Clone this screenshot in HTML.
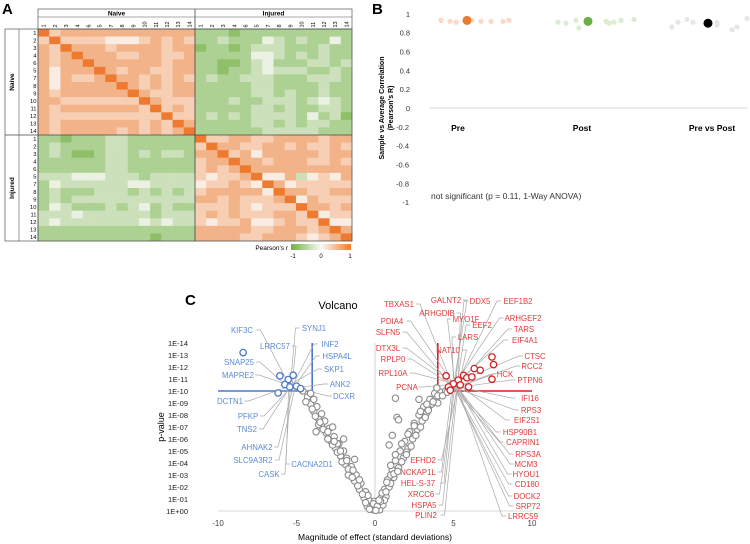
<!DOCTYPE html>
<html><head><meta charset="utf-8"><style>
body{margin:0;background:#fff;}
svg{display:block;font-family:"Liberation Sans",Arial,sans-serif;}
</style></head><body>
<svg id="fig" width="750" height="544" viewBox="0 0 750 544" xmlns="http://www.w3.org/2000/svg">
<g id="A"></g>
<g id="B"></g>
<g id="C"></g>
</svg>
<script>
// ---------- Panel A data ----------
const rowLabels=["1","2","3","4","6","5","7","8","9","10","11","12","13","14"];
const heatRows=[
"9677777777777722212222222222","6966665556767622322243232242","7697776777767712212333222322",
"7679777667766722222443232322","7677977777767722112342223323","7577797677667722122343332232",
"7576679776767623223332223332","7577777976767722222332222322","7677777797667722222332322322",
"7766666669766622232233323432","7677777776967622222332322332","7666666666696623232333324231",
"7677777776769722222332323322","7677777676767922222233333222",
"2212223322222296677667777677","2322223322222269776677676676","2321123323233277967577777677",
"2222223322222267797767776676","2222223322222267679777777777","3334443332333365667955735657",
"2433333344333356676597566666","2322233323232367777759776677","2323333333333377676667957666",
"2432223234232266676566697767","3334333333233367676667769566","3433333334343365667556766955",
"2222222222222277777667776797","2222222222122277776677765679"];
// ---------- Panel B data ----------
const bCats=["Pre","Post","Pre vs Post"];
const bMeans=[0.93,0.92,0.90];
const preVals=[0.93,0.92,0.91,0.93,0.92,0.92,0.92,0.93];
const postVals=[0.91,0.90,0.93,0.85,0.92,0.90,0.91,0.93,0.94];
const pvpVals=[0.86,0.91,0.94,0.91,0.88,0.91,0.83,0.86,0.95];
const bTicks=[1,0.8,0.6,0.4,0.2,0,-0.2,-0.4,-0.6,-0.8,-1];
// ---------- Panel C data ----------
const grayX=[-0.1,-0.3,-0.2,-0.5,-0.4,-0.7,-0.6,-1.0,-0.9,-1.3,-1.2,-1.6,-1.5,-1.9,-1.8,-2.2,-2.0,-2.5,-2.3,-2.8,-2.6,-3.1,-2.9,-3.4,-3.2,-3.6,-3.4,-3.9,-3.7,-4.1,-3.9,-4.3,-4.1,-4.6,-3.75,-3.6,-2.0,-1.3,-2.7,
0.1,0.3,0.2,0.5,0.4,0.7,0.6,0.9,0.8,1.2,1.1,1.5,1.3,1.8,1.6,2.1,1.9,2.4,2.2,2.7,2.5,3.0,2.8,3.3,3.1,3.6,3.5,3.9,3.8,4.2,4.5,4.8,1.3,1.4,1.5,1.1,0.9,2.8,0.0,-0.05,3.94,-1.7,-2.4,-3.0,0.6,1.0,2.0,3.4,4.0,
-0.2,-0.1,0.15,0.35,-0.45,-0.8,-1.1,-1.45,-1.7,-2.1,-2.4,-2.7,-3.0,-3.3,-3.5,-3.8,-4.0,-4.4,-1.0,-1.4,-1.8,-2.2,-2.6,-3.0,
0.25,0.45,0.7,1.0,1.2,1.45,1.7,2.0,2.3,2.6,2.9,3.2,3.4,3.7,4.0,4.3,4.6,0.75,1.0,1.3,1.7,2.1,2.5,2.9,3.3,-0.6,0.05,-0.35];
const grayY=[0.1,0.2,0.5,0.4,0.9,1.1,1.6,1.8,2.3,2.5,3.0,3.2,3.7,3.9,4.4,4.6,5.0,5.2,5.6,5.8,6.2,6.5,6.9,7.1,7.5,7.7,8.1,8.3,8.7,8.9,9.3,9.5,9.8,10.0,6.6,7.2,6.0,4.3,7.0,
0.2,0.1,0.6,0.5,1.1,1.2,1.8,2.0,2.6,2.8,3.4,3.6,4.2,4.4,5.0,5.2,5.8,6.0,6.6,6.8,7.3,7.5,8.0,8.2,8.7,8.9,9.3,9.4,9.8,9.9,10.0,10.2,9.4,7.8,7.6,6.3,5.5,9.3,0.3,0.8,10.26,3.0,5.6,6.0,0.9,3.0,4.9,8.5,9.0,
0.3,0.6,0.4,0.8,1.3,1.4,2.1,2.8,3.5,4.1,4.9,5.5,6.0,6.8,7.4,7.9,8.5,9.1,2.6,3.4,4.2,5.0,5.8,6.6,
0.9,1.5,1.6,2.3,3.1,3.3,4.1,4.7,5.4,6.3,7.0,7.8,8.4,9.1,9.6,9.6,9.9,2.4,3.8,4.7,5.6,6.4,7.1,8.3,8.9,0.7,0.05,0.15];
const blueX=[-8.4,-6.06,-5.53,-5.21,-5.74,-5.43,-5.0,-4.74,-6.17];
const blueY=[13.2,11.26,10.95,11.31,10.54,10.34,10.4,10.2,9.84];
const redX=[7.45,7.55,7.45,6.7,6.32,4.53,5.64,5.85,6.17,5.3,4.99,5.43,4.68,4.79,5.96];
const redY=[12.84,12.2,10.98,11.73,11.87,11.26,11.3,11.1,11.17,10.9,10.6,10.5,10.34,10.06,10.34];
const xTicks=[-10,-5,0,5,10];
const yTickVals=[0,1,2,3,4,5,6,7,8,9,10,11,12,13,14];
const blueLabels=[["KIF3C",242,333],["SYNJ1",314,331],["LRRC57",275,349],["INF2",330,347],["HSPA4L",337,359],["SNAP25",239,365],["SKP1",334,372],["MAPRE2",238,378],["ANK2",340,387],["DCTN1",230,404],["DCXR",344,399],["PFKP",248,419],["TNS2",247,432],["AHNAK2",257,450],["SLC9A3R2",253,463],["CACNA2D1",312,467],["CASK",269,477]];
const redLabels=[["TBXAS1",399,307],["GALNT2",446,303],["DDX5",480,304],["EEF1B2",518,304],["ARHGDIB",437,316],["ARHGEF2",523,321],["PDIA4",392,324],["MYO1F",466,322],["EEF2",482,328],["TARS",524,332],["SLFN5",388,335],["LARS",468,340],["EIF4A1",525,343],["DTX3L",388,351],["NAT10",448,353],["CTSC",535,359],["RPLP0",393,362],["RCC2",532,369],["RPL10A",393,376],["HCK",505,377],["PTPN6",530,383],["PCNA",407,390],["IFI16",530,401],["RPS3",531,413],["EIF2S1",527,423],["HSP90B1",520,435],["CAPRIN1",523,445],["RPS3A",528,457],["MCM3",526,467],["HYOU1",526,477],["CD180",527,487],["DOCK2",527,499],["SRP72",528,509],["LRRC59",523,519],["EFHD2",423,463],["NCKAP1L",418,475],["HEL-S-37",418,486],["XRCC6",421,497],["HSPA5",424,508],["PLIN2",426,518]];

const NS="http://www.w3.org/2000/svg";
function mk(tag,attrs,parent,txt){const e=document.createElementNS(NS,tag);for(const k in attrs)e.setAttribute(k,attrs[k]);if(txt!==undefined)e.textContent=txt;parent.appendChild(e);return e;}
function lerp(a,b,t){return Math.round(a+(b-a)*t);}
function heatColor(r){const g=[112,176,64],w=[250,250,248],o=[238,122,48];
 if(r<0){const t=-r;return `rgb(${lerp(w[0],g[0],t)},${lerp(w[1],g[1],t)},${lerp(w[2],g[2],t)})`;}
 return `rgb(${lerp(w[0],o[0],r)},${lerp(w[1],o[1],r)},${lerp(w[2],o[2],r)})`;}

// ---------- Panel A ----------
const A=document.getElementById('A');
let t=mk('text',{x:2,y:14,'font-size':15,'font-weight':'bold'},A,'A');

const x0=38,y0=29,cw=(352-38)/28,ch=(241-29)/28;
const cells=mk('g',{},A);
heatRows.forEach((row,i)=>{for(let j=0;j<28;j++){const v=(parseInt(row[j])-4.5)/4.5;
 const r=mk('rect',{x:x0+j*cw,y:y0+i*ch,width:cw+0.3,height:ch+0.3,fill:heatColor(v)},cells);
 }});
mk('rect',{x:x0,y:y0,width:28*cw,height:28*ch,fill:'none',stroke:'#555','stroke-width':0.8},A);
mk('line',{x1:x0+14*cw,y1:9,x2:x0+14*cw,y2:241,stroke:'#444','stroke-width':0.8},A);
mk('line',{x1:5,y1:y0+14*ch,x2:352,y2:y0+14*ch,stroke:'#444','stroke-width':0.8},A);
mk('rect',{x:x0,y:9,width:28*cw,height:20,fill:'none',stroke:'#555','stroke-width':0.7},A);
mk('line',{x1:x0,y1:17,x2:352,y2:17,stroke:'#555','stroke-width':0.6},A);
mk('rect',{x:5,y:y0,width:33,height:28*ch,fill:'none',stroke:'#555','stroke-width':0.7},A);
mk('line',{x1:19,y1:y0,x2:19,y2:241,stroke:'#555','stroke-width':0.6},A);
["Naive","Injured"].forEach((g,k)=>{
 let e=mk('text',{x:x0+(7+14*k)*cw,y:15.5,'font-size':6.5,'font-weight':'bold','text-anchor':'middle'},A,g);
 
 const cy=y0+(7+14*k)*ch;
 e=mk('text',{x:14,y:cy,'font-size':6.5,'font-weight':'bold','text-anchor':'middle',transform:`rotate(-90 14 ${cy})`},A,g);
 
 rowLabels.forEach((l,i)=>{const idx=k*14+i;
  const cx=x0+(idx+0.5)*cw+2;
  e=mk('text',{x:cx,y:27.5,'font-size':5.5,transform:`rotate(-90 ${cx} 27.5)`},A,l);
  
  e=mk('text',{x:36.5,y:y0+(idx+0.5)*ch+2,'font-size':5.8,'text-anchor':'end'},A,l);
  });
});
const defs=mk('defs',{},A);const lg=mk('linearGradient',{id:'pg',x1:0,x2:1,y1:0,y2:0},defs);
mk('stop',{offset:'0','stop-color':heatColor(-1)},lg);mk('stop',{offset:'0.5','stop-color':heatColor(0)},lg);mk('stop',{offset:'1','stop-color':heatColor(1)},lg);
let lgR=mk('rect',{x:291,y:244,width:60,height:6,fill:'url(#pg)'},A);

t=mk('text',{x:288,y:250,'font-size':6.5,'text-anchor':'end'},A,"Pearson's r");
[["-1",293],["0",321],["1",350]].forEach(([s,x])=>{const e=mk('text',{x:x,y:258,'font-size':6,'text-anchor':'middle'},A,s);});

// ---------- Panel B ----------
const B=document.getElementById('B');
t=mk('text',{x:372,y:14,'font-size':15,'font-weight':'bold'},B,'B');
const by=v=>108-v*94.2;
const bx=[458,582,712];
bTicks.forEach(v=>{const e=mk('text',{x:(v<0?409:410),y:by(v)+3,'font-size':7.5,'text-anchor':'end',fill:'#333'},B,String(v));});
let ax=mk('line',{x1:429,y1:by(0),x2:748,y2:by(0),stroke:'#ccc','stroke-width':0.8},B);
t=mk('text',{x:384,y:108,'font-size':7,'font-weight':'bold','text-anchor':'middle',transform:'rotate(-90 384 108)'},B,'Sample vs Average Correlation');
t=mk('text',{x:393,y:108,'font-size':7,'font-weight':'bold','text-anchor':'middle',transform:'rotate(-90 393 108)'},B,"(Pearson's R)");
bCats.forEach((c,i)=>{const e=mk('text',{x:bx[i],y:131,'font-size':8.5,'font-weight':'bold','text-anchor':'middle'},B,c);});
const jit=[[-26,-17,-11,5,14,24,36,42],[-30,-22,-12,-9,18,21,26,33,46],[-36,-30,-21,-15,9,9,24,29,39]];
const sets=[preVals,postVals,pvpVals],lightCols=['#fbd9c4','#dbedd0','#e6e6e6'],meanCols=['#ee7a30','#6aae45','#000'];
sets.forEach((vals,i)=>{vals.forEach((v,k)=>{const c=mk('circle',{cx:467+(i===0?0:i===1?121:241)+jit[i][k],cy:by(v),r:2.6,fill:lightCols[i]},B);});
 const m=mk('circle',{cx:467+(i===0?0:i===1?121:241),cy:by(bMeans[i]),r:4.5,fill:meanCols[i]},B);});
t=mk('text',{x:431,y:199,'font-size':8.5,fill:'#333'},B,'not significant (p = 0.11, 1-Way ANOVA)');

// ---------- Panel C ----------
const C=document.getElementById('C');
t=mk('text',{x:185,y:305,'font-size':15,'font-weight':'bold'},C,'C');
const cx=v=>375+v*15.7, cy=v=>511-v*12.0;
t=mk('text',{x:338,y:309,'font-size':11,'text-anchor':'middle'},C,'Volcano');
let l=mk('line',{x1:cx(-10),y1:cy(0),x2:cx(10),y2:cy(0),stroke:'#ccc','stroke-width':0.8},C);
l=mk('line',{x1:cx(0),y1:cy(14),x2:cx(0),y2:cy(0),stroke:'#ccc','stroke-width':0.8},C);
xTicks.forEach(v=>{const e=mk('text',{x:cx(v),y:526,'font-size':8,'text-anchor':'middle',fill:'#444'},C,String(v));});
yTickVals.forEach(v=>{const s=v===0?'1E+00':'1E-'+String(v).padStart(2,'0');const e=mk('text',{x:188,y:cy(v)+3,'font-size':7.5,'text-anchor':'end',fill:'#222'},C,s);});
t=mk('text',{x:375,y:540,'font-size':8.5,'text-anchor':'middle'},C,'Magnitude of effect (standard deviations)');
t=mk('text',{x:164,y:427,'font-size':9,'text-anchor':'middle',transform:'rotate(-90 164 427)'},C,'p-value');
[[cx(-10),cy(10),cx(-4),cy(10),'#4a78cc'],[cx(-4),cy(14),cx(-4),cy(10),'#4a78cc'],[cx(4),cy(10),cx(10),cy(10),'#d42020'],[cx(4),cy(14),cx(4),cy(10),'#d42020']].forEach(a=>{const e=mk('line',{x1:a[0],y1:a[1],x2:a[2],y2:a[3],stroke:a[4],'stroke-width':1.6},C);});
const blueT=[cx(-5.3),cy(10.4)],redT=[cx(5.1),cy(10.4)];
function leaders(labels,tg,col){labels.forEach(([s,x,y],k)=>{const hw=s.length*2.5;const left=x<tg[0];
 const sx=left?x+hw+2:x-hw-2;const tx=tg[0]+((k%5)-2)*1.5,ty=tg[1]+((k%3)-1)*2;
 const e=mk('polyline',{points:`${sx} ${y-3} ${left?sx+4:sx-4} ${y-3} ${tx} ${ty}`,fill:'none',stroke:'#aaa','stroke-width':0.7},C);
 
 const tt=mk('text',{x:x,y:y,'font-size':7.8,'text-anchor':'middle',fill:col},C,s);
 });}
leaders(blueLabels,blueT,'#5b8bd4');leaders(redLabels,redT,'#e03a3a');
grayX.forEach((v,i)=>{const c=mk('circle',{cx:cx(v),cy:cy(grayY[i]),r:3.2,fill:'#fff',stroke:'#8a8a8a','stroke-width':1.1},C);});
blueX.forEach((v,i)=>{const c=mk('circle',{cx:cx(v),cy:cy(blueY[i]),r:3.2,fill:'#fff',stroke:'#4a78cc','stroke-width':1.3},C);});
redX.forEach((v,i)=>{const c=mk('circle',{cx:cx(v),cy:cy(redY[i]),r:3.2,fill:'#fff',stroke:'#d42020','stroke-width':1.3},C);});
</script>
</body></html>
